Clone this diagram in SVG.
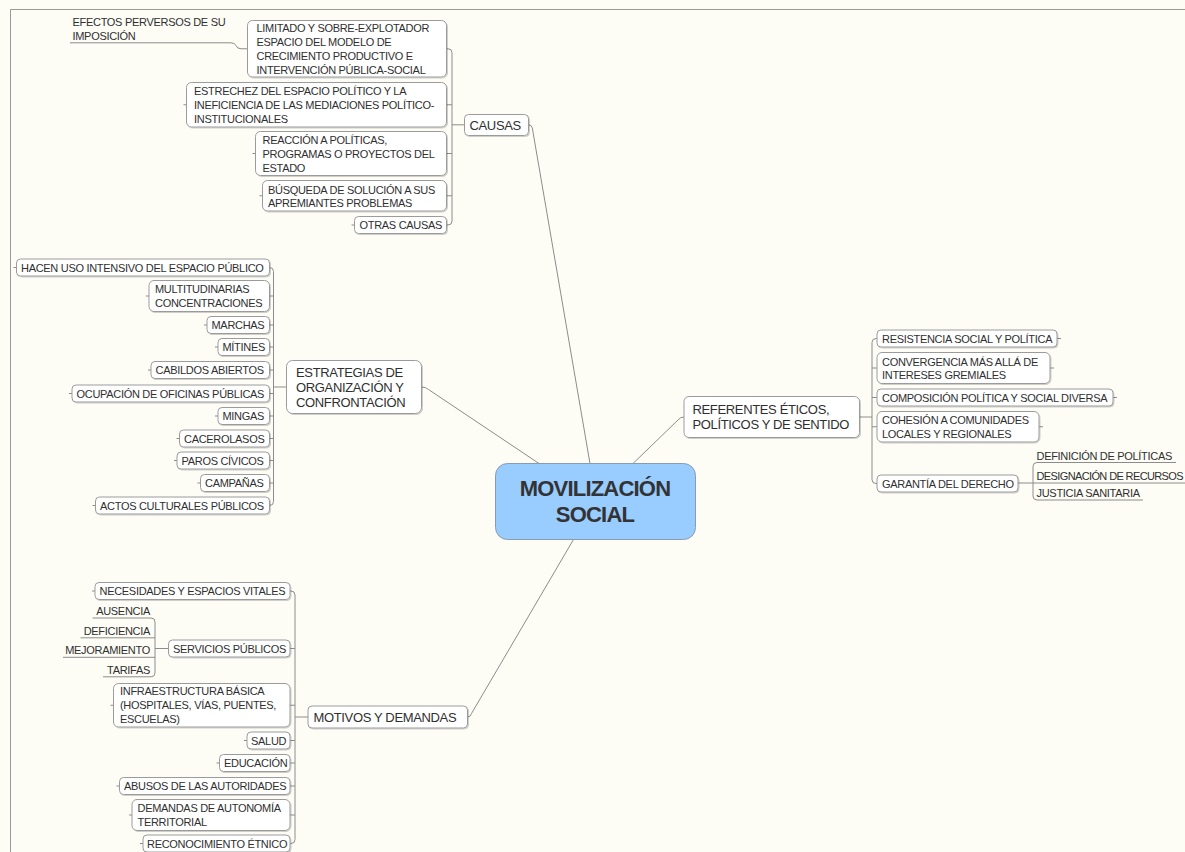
<svg xmlns="http://www.w3.org/2000/svg" width="1185" height="852" viewBox="0 0 1185 852">
<defs>
<filter id="sh" x="-5%" y="-10%" width="110%" height="140%"><feDropShadow dx="1" dy="1" stdDeviation="0.7" flood-color="#000" flood-opacity="0.18"/></filter>
<style>
.box{fill:#ffffff;stroke:#9b9b9b;stroke-width:1;filter:url(#sh)}
.t{font-family:"Liberation Sans",Arial,sans-serif;font-size:11px;letter-spacing:-0.3px;fill:#2f2f2f}
.t1{font-size:13px;letter-spacing:-0.35px}
.te{text-anchor:end}
.tc{font-family:"Liberation Sans",Arial,sans-serif;font-size:22px;font-weight:bold;letter-spacing:-0.8px;text-anchor:middle;fill:#333}
.ln{fill:none;stroke:#8c8c8c;stroke-width:1}
.frame{fill:none;stroke:#9a9a9a;stroke-width:1}
</style>
</defs>
<rect x="0" y="0" width="1185" height="852" fill="#fdfdf6"/>
<path class="frame" d="M10.5,852 V9.5 H1185"/>

<g id="connectors">
<path class="ln" d="M528.5,124.8 Q531.5,124.8 532.3,128 L590,463.5"/>
<path class="ln" d="M421.5,387 Q426,387 428.5,389.5 L539,463.5"/>
<path class="ln" d="M684,417 Q680,417 678,420 L633,463.5"/>
<path class="ln" d="M467.5,717 Q470.5,717 471.5,713.5 L573.5,539.5"/>
<path class="ln" d="M446.5,48.75 H448 Q452,48.75 452,52.75 V221 Q452,225 448,225 H446.5 M446.5,104.75 H452 M446.5,153.5 H452 M446.5,195.75 H452 M452,124.8 H464.5"/>
<path class="ln" d="M183.5,104.75 H186.5 M252.5,153.5 H255.5 M259.5,195.75 H262.5 M351.5,225 H354.5"/>
<path class="ln" d="M70,42.8 H231 Q235,42.8 236,45.6 Q237,48.75 241,48.75 H247.5"/>
<path class="ln" d="M269.5,267.5 Q273.5,267.5 273.5,271.5 V501.5 Q273.5,505.5 269.5,505.5 M269.5,296 H273.5 M269.5,325 H273.5 M269.5,347 H273.5 M269.5,370 H273.5 M269.5,393.5 H273.5 M269.5,416 H273.5 M269.5,438.5 H273.5 M269.5,460.5 H273.5 M269.5,483 H273.5 M273.5,387 H286.5"/>
<path class="ln" d="M13.5,267.5 H16.5 M146,296 H149 M204,325 H207 M215,347 H218 M148,370 H151 M69,393.5 H72 M215,416 H218 M176.5,438.5 H179.5 M174,460.5 H177 M197.5,483 H200.5 M92.5,505.5 H95.5"/>
<path class="ln" d="M877,338.5 H876 Q872,338.5 872,342.5 V479.5 Q872,483.5 876,483.5 H877 M872,368 H877 M872,397.5 H877 M872,426.75 H877 M859.5,417 H872"/>
<path class="ln" d="M1057,338.5 H1061 M1050,368 H1054 M1113,397.5 H1117 M1039,426.75 H1043"/>
<path class="ln" d="M1018,483 H1185 M1176,462.5 H1037 Q1033,462.5 1033,466.5 V496 Q1033,500 1037,500 H1143"/>
<path class="ln" d="M290,591 H291 Q295,591 295,595 V839.5 Q295,843.5 291,843.5 H290 M290,648.5 H295 M290,705.25 H295 M290,740.5 H295 M290,763 H295 M290,786 H295 M290,815 H295 M295,717 H308"/>
<path class="ln" d="M92,591 H95 M110.5,705.25 H113.5 M244,740.5 H247 M216.5,763 H219.5 M116.5,786 H119.5 M129,815 H132 M140,843.5 H143"/>
<path class="ln" d="M92.5,618 H151 Q155,618 155,622 V672.8 Q155,676.8 151,676.8 H103 M80.5,637.8 H155 M63,657.3 H155 M155,648.5 H168.5"/>
</g>

<g id="n-center">
<rect x="495.5" y="463.5" width="200" height="76" rx="12" fill="#99ccff" stroke="#8a9bb0" stroke-width="1"/>
<text class="tc" x="595" y="496">MOVILIZACIÓN</text>
<text class="tc" x="595" y="522">SOCIAL</text>
</g>

<g id="n-causas">
<rect class="box" x="464.5" y="114.5" width="64" height="21" rx="4"/>
<text class="t t1" x="469.5" y="129.5">CAUSAS</text>
</g>
<g id="n-causas-1">
<rect class="box" x="247.5" y="20.5" width="199" height="56.5" rx="5"/>
<text class="t" x="256.5" y="32.3"><tspan x="256.5">LIMITADO Y SOBRE-EXPLOTADOR</tspan><tspan x="256.5" dy="13.8">ESPACIO DEL MODELO DE</tspan><tspan x="256.5" dy="13.8">CRECIMIENTO PRODUCTIVO E</tspan><tspan x="256.5" dy="13.8">INTERVENCIÓN PÚBLICA-SOCIAL</tspan></text>
</g>
<g id="n-efectos">
<text class="t" x="72.5" y="26"><tspan x="72.5">EFECTOS PERVERSOS DE SU</tspan><tspan x="72.5" dy="13.8">IMPOSICIÓN</tspan></text>
</g>
<g id="n-causas-2">
<rect class="box" x="186.5" y="82.5" width="260" height="44.5" rx="5"/>
<text class="t" x="194" y="95.4"><tspan x="194">ESTRECHEZ DEL ESPACIO POLÍTICO Y LA</tspan><tspan x="194" dy="13.8">INEFICIENCIA DE LAS MEDIACIONES POLÍTICO-</tspan><tspan x="194" dy="13.8">INSTITUCIONALES</tspan></text>
</g>
<g id="n-causas-3">
<rect class="box" x="255.5" y="131.5" width="191" height="44" rx="5"/>
<text class="t" x="262.5" y="144.3"><tspan x="262.5">REACCIÓN A POLÍTICAS,</tspan><tspan x="262.5" dy="13.8">PROGRAMAS O PROYECTOS DEL</tspan><tspan x="262.5" dy="13.8">ESTADO</tspan></text>
</g>
<g id="n-causas-4">
<rect class="box" x="262.5" y="180.5" width="184" height="30.5" rx="5"/>
<text class="t" x="268" y="193.5"><tspan x="268">BÚSQUEDA DE SOLUCIÓN A SUS</tspan><tspan x="268" dy="13.8">APREMIANTES PROBLEMAS</tspan></text>
</g>
<g id="n-causas-5">
<rect class="box" x="354.5" y="216.5" width="92" height="17" rx="4"/>
<text class="t" x="359.5" y="229.3">OTRAS CAUSAS</text>
</g>

<g id="n-estrategias">
<rect class="box" x="286.5" y="360.5" width="135" height="53" rx="6"/>
<text class="t t1" x="296" y="376.5"><tspan x="296">ESTRATEGIAS DE</tspan><tspan x="296" dy="15">ORGANIZACIÓN Y</tspan><tspan x="296" dy="15">CONFRONTACIÓN</tspan></text>
</g>
<g id="n-est-1"><rect class="box" x="16.5" y="259" width="253" height="17" rx="4"/><text class="t" x="21" y="271.8">HACEN USO INTENSIVO DEL ESPACIO PÚBLICO</text></g>
<g id="n-est-2"><rect class="box" x="149" y="280.5" width="120.5" height="31" rx="5"/><text class="t" x="155" y="293.1"><tspan x="155">MULTITUDINARIAS</tspan><tspan x="155" dy="13.8">CONCENTRACIONES</tspan></text></g>
<g id="n-est-3"><rect class="box" x="207" y="316.5" width="62.5" height="17" rx="4"/><text class="t" x="211.5" y="329.3">MARCHAS</text></g>
<g id="n-est-4"><rect class="box" x="218" y="338.5" width="51.5" height="17" rx="4"/><text class="t" x="222.5" y="351.3">MÍTINES</text></g>
<g id="n-est-5"><rect class="box" x="151" y="361.5" width="118.5" height="17" rx="4"/><text class="t" x="155.5" y="374.3">CABILDOS ABIERTOS</text></g>
<g id="n-est-6"><rect class="box" x="72" y="385" width="197.5" height="17" rx="4"/><text class="t" x="76.5" y="397.8">OCUPACIÓN DE OFICINAS PÚBLICAS</text></g>
<g id="n-est-7"><rect class="box" x="218" y="407.5" width="51.5" height="17" rx="4"/><text class="t" x="222.5" y="420.3">MINGAS</text></g>
<g id="n-est-8"><rect class="box" x="179.5" y="430" width="90" height="17" rx="4"/><text class="t" x="184" y="442.8">CACEROLASOS</text></g>
<g id="n-est-9"><rect class="box" x="177" y="452" width="92.5" height="17" rx="4"/><text class="t" x="181.5" y="464.8">PAROS CÍVICOS</text></g>
<g id="n-est-10"><rect class="box" x="200.5" y="474.5" width="69" height="17" rx="4"/><text class="t" x="205" y="487.3">CAMPAÑAS</text></g>
<g id="n-est-11"><rect class="box" x="95.5" y="497" width="174" height="17" rx="4"/><text class="t" x="100" y="509.8">ACTOS CULTURALES PÚBLICOS</text></g>

<g id="n-referentes">
<rect class="box" x="684" y="396.5" width="175.5" height="41" rx="5"/>
<text class="t t1" x="692.5" y="414"><tspan x="692.5">REFERENTES ÉTICOS,</tspan><tspan x="692.5" dy="15">POLÍTICOS Y DE SENTIDO</tspan></text>
</g>
<g id="n-ref-1"><rect class="box" x="877" y="330" width="180" height="17" rx="4"/><text class="t" x="882" y="342.8">RESISTENCIA SOCIAL Y POLÍTICA</text></g>
<g id="n-ref-2"><rect class="box" x="877" y="352.5" width="173" height="31" rx="5"/><text class="t" x="882" y="365.6"><tspan x="882">CONVERGENCIA MÁS ALLÁ DE</tspan><tspan x="882" dy="13.8">INTERESES GREMIALES</tspan></text></g>
<g id="n-ref-3"><rect class="box" x="877" y="389" width="236" height="17" rx="4"/><text class="t" x="882" y="401.8">COMPOSICIÓN POLÍTICA Y SOCIAL DIVERSA</text></g>
<g id="n-ref-4"><rect class="box" x="877" y="411.5" width="162" height="30.5" rx="5"/><text class="t" x="882" y="424.3"><tspan x="882">COHESIÓN A COMUNIDADES</tspan><tspan x="882" dy="13.8">LOCALES Y REGIONALES</tspan></text></g>
<g id="n-ref-5"><rect class="box" x="877" y="475" width="141" height="17" rx="4"/><text class="t" x="882" y="487.8">GARANTÍA DEL DERECHO</text></g>
<g id="n-gar-1"><text class="t" x="1036.5" y="459.5">DEFINICIÓN DE POLÍTICAS</text></g>
<g id="n-gar-2"><text class="t" x="1036.5" y="480" style="letter-spacing:-0.62px">DESIGNACIÓN DE RECURSOS</text></g>
<g id="n-gar-3"><text class="t" x="1036.5" y="497">JUSTICIA SANITARIA</text></g>

<g id="n-motivos">
<rect class="box" x="308" y="706" width="159.5" height="22" rx="4"/>
<text class="t t1" x="313.5" y="721.8">MOTIVOS Y DEMANDAS</text>
</g>
<g id="n-mot-1"><rect class="box" x="95" y="582.5" width="195" height="17" rx="4"/><text class="t" x="99.5" y="595.3">NECESIDADES Y ESPACIOS VITALES</text></g>
<g id="n-mot-2"><rect class="box" x="168.5" y="640" width="121.5" height="17" rx="4"/><text class="t" x="173" y="652.8">SERVICIOS PÚBLICOS</text></g>
<g id="n-serv-1"><text class="t te" x="150" y="615">AUSENCIA</text></g>
<g id="n-serv-2"><text class="t te" x="150" y="634.8">DEFICIENCIA</text></g>
<g id="n-serv-3"><text class="t te" x="150" y="654.3">MEJORAMIENTO</text></g>
<g id="n-serv-4"><text class="t te" x="150" y="673.8">TARIFAS</text></g>
<g id="n-mot-3"><rect class="box" x="113.5" y="683.5" width="176.5" height="43.5" rx="5"/><text class="t" x="120" y="695.2"><tspan x="120">INFRAESTRUCTURA BÁSICA</tspan><tspan x="120" dy="13.8">(HOSPITALES, VÍAS, PUENTES,</tspan><tspan x="120" dy="13.8">ESCUELAS)</tspan></text></g>
<g id="n-mot-4"><rect class="box" x="247" y="732" width="43" height="17" rx="4"/><text class="t" x="251" y="744.8">SALUD</text></g>
<g id="n-mot-5"><rect class="box" x="219.5" y="754.5" width="70.5" height="17" rx="4"/><text class="t" x="224" y="767.3">EDUCACIÓN</text></g>
<g id="n-mot-6"><rect class="box" x="119.5" y="777.5" width="170.5" height="17" rx="4"/><text class="t" x="124" y="790.3">ABUSOS DE LAS AUTORIDADES</text></g>
<g id="n-mot-7"><rect class="box" x="132" y="799.5" width="158" height="31" rx="5"/><text class="t" x="137.5" y="812.1"><tspan x="137.5">DEMANDAS DE AUTONOMÍA</tspan><tspan x="137.5" dy="13.8">TERRITORIAL</tspan></text></g>
<g id="n-mot-8"><rect class="box" x="143" y="835" width="147" height="17" rx="4"/><text class="t" x="147" y="847.8">RECONOCIMIENTO ÉTNICO</text></g>
</svg>
